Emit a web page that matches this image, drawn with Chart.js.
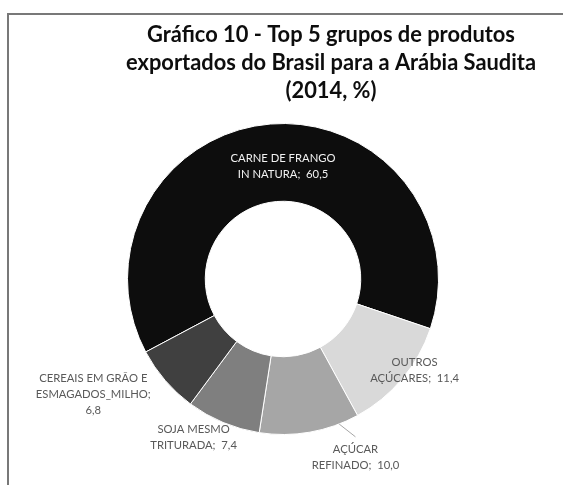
<!DOCTYPE html>
<html><head><meta charset="utf-8">
<script src="https://cdn.jsdelivr.net/npm/chart.js@4/dist/chart.umd.min.js"></script>
<style>html,body{margin:0;padding:0;background:#fff;overflow:hidden}#wrap{position:relative;width:563px;height:485px}</style>
</head><body><div id="wrap"><canvas id="c" width="563" height="485"></canvas></div>
<script>
const titleLines = ["Gráfico 10 - Top 5 grupos de produtos", "exportados do Brasil para a Arábia Saudita", "(2014, %)"];
const categories = ["CARNE DE FRANGO IN NATURA", "OUTROS AÇÚCARES", "AÇÚCAR REFINADO", "SOJA MESMO TRITURADA", "CEREAIS EM GRÃO E ESMAGADOS_MILHO"];
const categoryLines = [["CARNE DE FRANGO", "IN NATURA;"], ["OUTROS", "AÇÚCARES;"], ["AÇÚCAR", "REFINADO;"], ["SOJA MESMO", "TRITURADA;"], ["CEREAIS EM GRÃO E", "ESMAGADOS_MILHO;", ""]];
const values = [60.5, 11.4, 10.0, 7.4, 6.8];
const colors = ['#0d0d0d', '#d9d9d9', '#a6a6a6', '#7f7f7f', '#404040'];

function fmt(v){ return v.toFixed(1).replace('.', ','); }
function buildLines(i){
  const l = categoryLines[i].slice();
  const last = l.length - 1;
  l[last] = l[last] ? l[last] + '  ' + fmt(values[i]) : fmt(values[i]);
  return l;
}
// label block offsets relative to ring centre, in units of outer radius (styling)
const labelOffsets = [[0.0, -0.725], [0.846, 0.585], [0.466, 1.15], [-0.575, 1.02], [-1.22, 0.745]];
const labelColors = ['#f2f2f2', '#595959', '#595959', '#595959', '#595959'];

const FONT = 'Lato, "Liberation Sans", sans-serif';

const overlay = {
  id: 'overlay',
  afterDraw(chart){
    const ctx = chart.ctx;
    ctx.save();
    // frame (only top & left visible in crop)
    ctx.strokeStyle = '#787878';
    ctx.lineWidth = 2;
    ctx.beginPath();
    ctx.moveTo(8, 485); ctx.lineTo(8, 14); ctx.lineTo(563, 14);
    ctx.stroke();
    // title
    ctx.fillStyle = '#0d0d0d';
    ctx.textAlign = 'center';
    ctx.textBaseline = 'middle';
    let ts = 19;
    ctx.font = 'bold ' + ts + 'px ' + FONT;
    const w = ctx.measureText(titleLines[1]).width;
    ts = ts * 410 / w;
    ctx.font = 'bold ' + ts.toFixed(2) + 'px ' + FONT;
    titleLines.forEach((t, k) => ctx.fillText(t, 331, 35 + k * 28));
    // labels
    const meta = chart.getDatasetMeta(0);
    const a0 = meta.data[0];
    const cx = a0.x, cy = a0.y, R = a0.outerRadius;
    let ls = 12;
    ctx.font = ls + 'px ' + FONT;
    const lw = ctx.measureText('CARNE DE FRANGO').width;
    ls = ls * 105 / lw;
    ctx.font = ls.toFixed(2) + 'px ' + FONT;
    meta.data.forEach((arc, i) => {
      const lines = buildLines(i);
      const bx = cx + labelOffsets[i][0] * R;
      const by = cy + labelOffsets[i][1] * R;
      const lh = 16;
      const y0 = by - (lines.length - 1) * lh / 2;
      ctx.fillStyle = labelColors[i];
      lines.forEach((t, k) => ctx.fillText(t, bx, y0 + k * lh));
    });
    // leader line for AÇÚCAR REFINADO
    const arc = meta.data[2];
    const ang = arc.startAngle + (arc.endAngle - arc.startAngle) * 0.2;
    ctx.strokeStyle = '#a6a6a6';
    ctx.lineWidth = 1;
    ctx.beginPath();
    ctx.moveTo(cx + Math.cos(ang) * R, cy + Math.sin(ang) * R);
    ctx.lineTo(cx + 0.466 * R, cy + 1.015 * R);
    ctx.stroke();
    ctx.restore();
  }
};

new Chart(document.getElementById('c'), {
  type: 'doughnut',
  data: {
    labels: categories,
    datasets: [{
      data: values,
      backgroundColor: colors,
      borderColor: '#ffffff',
      borderWidth: 1,
      hoverOffset: 0
    }]
  },
  options: {
    responsive: false,
    animation: false,
    events: [],
    rotation: 242,
    cutout: '50%',
    layout: { padding: { left: 127, top: 123, right: 124, bottom: 50 } },
    plugins: { legend: { display: false }, tooltip: { enabled: false }, title: { display: false } }
  },
  plugins: [overlay]
});
</script>
</body></html>
